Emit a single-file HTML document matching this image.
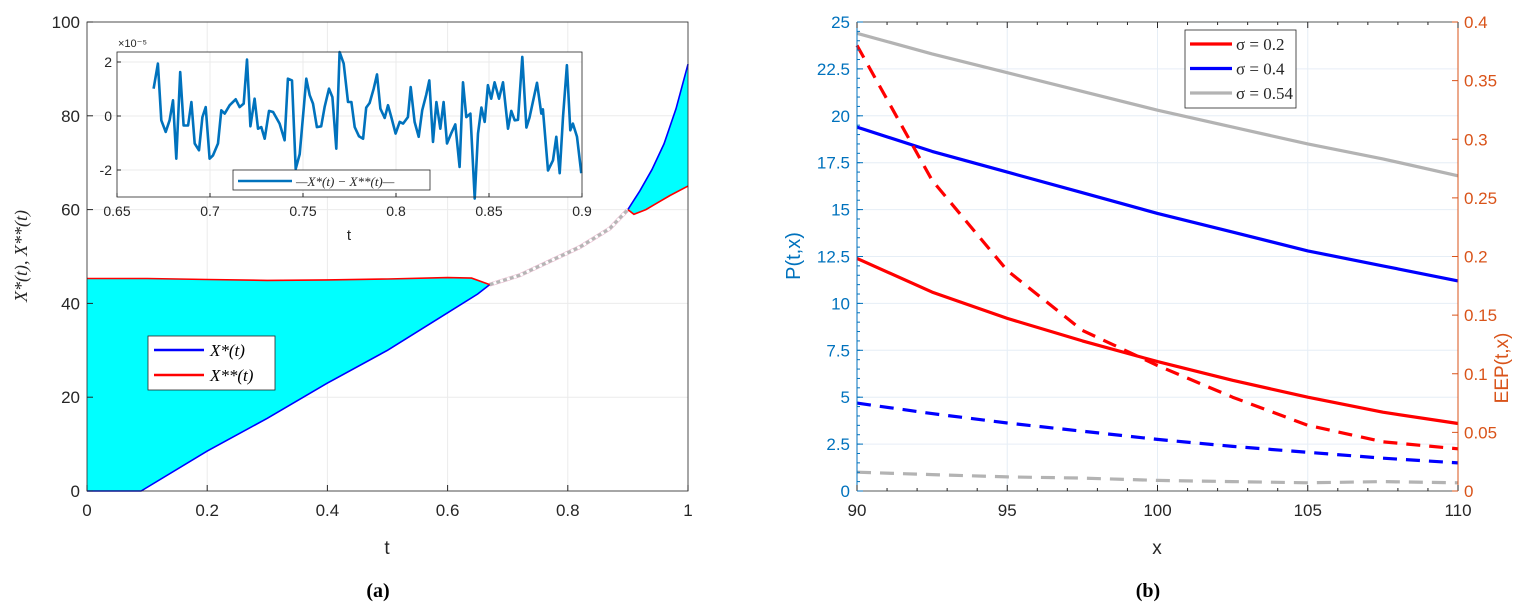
<!DOCTYPE html>
<html><head><meta charset="utf-8">
<style>
body{margin:0;background:#fff;}
svg{display:block;font-family:"Liberation Sans",sans-serif;}
.tk{font-size:17px;fill:#262626;}
.itk{font-size:14px;fill:#262626;}
.ser{font-family:"Liberation Serif",serif;font-style:italic;}
</style></head>
<body>
<svg id="fig" width="1518" height="606" viewBox="0 0 1518 606">
<g id="A"></g>
<g id="B"></g>
</svg>
<script>
// Panel (a) data
const tBlue1 = [0,0.09,0.2,0.3,0.4,0.5,0.6,0.65,0.67];
const vBlue1 = [0,0,8.5,15.5,23,30,38,42,44];
const tRed1 = [0,0.1,0.2,0.3,0.4,0.5,0.6,0.64,0.67];
const vRed1 = [45.3,45.3,45.1,44.9,45,45.2,45.5,45.4,44];
const tGap = [0.67,0.72,0.77,0.82,0.87,0.9];
const vGap = [44,46,49,52,56,60];
const tBlue2 = [0.9,0.92,0.94,0.96,0.98,1];
const vBlue2 = [60,64,68.5,74,81.5,91];
const tRed2 = [0.9,0.91,0.93,0.95,0.97,1];
const vRed2 = [60,59,60,61.5,63,65];
const aXTicks = [0,0.2,0.4,0.6,0.8,1];
const aXLabels = ["0","0.2","0.4","0.6","0.8","1"];
const aYTicks = [0,20,40,60,80,100];
// inset data (units 1e-5)
const tIn = [.6697,.6720,.6738,.6762,.6783,.6801,.6819,.6840,.6858,.6882,.6900,.6918,.6941,.6959,.6977,.6998,.7016,.7043,.7061,.7079,.7106,.7138,.7159,.7181,.7199,.7217,.7240,.7258,.7276,.7294,.7317,.7339,.7374,.7401,.7419,.7441,.7461,.7482,.7518,.7536,.7554,.7575,.7598,.7616,.7640,.7658,.7679,.7697,.7719,.7742,.7760,.7778,.7801,.7823,.7840,.7858,.7880,.7898,.7916,.7939,.7957,.7975,.7998,.8020,.8038,.8064,.8079,.8100,.8122,.8141,.8163,.8179,.8199,.8217,.8238,.8256,.8274,.8296,.8319,.8342,.8360,.8378,.8400,.8423,.8441,.8459,.8477,.8494,.8512,.8530,.8554,.8575,.8602,.8620,.8638,.8656,.8679,.8701,.8718,.8758,.8781,.8790,.8817,.8844,.8862,.8880,.8898,.8919,.8937,.8951,.8973,.8996];
const vIn = [1.01,1.94,-0.16,-0.59,-0.16,0.58,-1.58,1.63,-0.35,-0.35,0.52,-1.02,-1.27,-0.04,0.33,-1.58,-1.46,-1.02,0.21,0.09,0.40,0.62,0.33,0.46,2.09,-0.38,0.64,-0.47,-0.41,-0.84,0.19,0.15,-0.28,-0.90,1.38,1.32,-1.96,-1.41,1.38,0.77,0.46,-0.41,-0.38,0.33,1.01,0.70,-1.21,2.37,1.94,0.52,0.52,-0.41,-0.75,-0.84,0.31,0.48,1.01,1.54,0.27,-0.07,0.40,-0.04,-0.65,-0.22,-0.28,-0.04,1.07,-0.22,-0.77,0.21,0.80,1.32,-0.96,0.52,-0.47,0.52,-1.02,-0.65,-0.31,-1.89,1.25,-0.04,0.09,-3.06,-0.65,0.31,-0.22,1.14,0.64,1.25,0.64,1.25,-0.47,0.19,-0.16,-0.14,2.19,-0.43,-0.06,1.23,0.09,0.25,-2.02,-1.64,-0.77,-2.12,-0.04,1.88,-0.53,-0.28,-0.77,-2.12];
const inXTicks = [0.65,0.7,0.75,0.8,0.85,0.9];
const inXLabels = ["0.65","0.7","0.75","0.8","0.85","0.9"];
const inYTicks = [-2,0,2];
// Panel (b) data
const xs = [90,92.5,95,97.5,100,102.5,105,107.5,110];
const pGray = [24.4,23.3,22.3,21.3,20.3,19.4,18.5,17.7,16.8];
const pBlue = [19.4,18.1,17.0,15.9,14.8,13.8,12.8,12.0,11.2];
const pRed = [12.4,10.6,9.2,8.0,6.9,5.9,5.0,4.2,3.6];
const eRed = [0.38,0.265,0.188,0.137,0.107,0.08,0.056,0.042,0.036];
const eBlue = [0.075,0.066,0.058,0.051,0.044,0.038,0.033,0.028,0.024];
const eGray = [0.016,0.014,0.012,0.011,0.009,0.008,0.007,0.008,0.007];
const bXTicks = [90,95,100,105,110];
const bYTicks = [0,2.5,5,7.5,10,12.5,15,17.5,20,22.5,25];
const bYLabels = ["0","2.5","5","7.5","10","12.5","15","17.5","20","22.5","25"];
const bRTicks = [0,0.05,0.1,0.15,0.2,0.25,0.3,0.35,0.4];
const bRLabels = ["0","0.05","0.1","0.15","0.2","0.25","0.3","0.35","0.4"];

const NS="http://www.w3.org/2000/svg";
function mk(par,tag,attrs,txt){const e=document.createElementNS(NS,tag);for(const k in attrs)e.setAttribute(k,attrs[k]);if(txt!==undefined)e.textContent=txt;par.appendChild(e);return e;}
function pts(xa,ya,fx,fy){return xa.map((x,i)=>fx(x).toFixed(1)+","+fy(ya[i]).toFixed(1)).join(" ");}

// ---------- Panel A ----------
const A=document.getElementById('A');
const ax=t=>87+t*601, ay=v=>491-v*4.69;
for(const t of aXTicks){const l=mk(A,'line',{x1:ax(t),x2:ax(t),y1:22,y2:491,stroke:'#ebebeb'});

}
for(const v of aYTicks){const l=mk(A,'line',{x1:87,x2:688,y1:ay(v),y2:ay(v),stroke:'#ebebeb'});

}
const f1=mk(A,'polygon',{points:pts(tRed1,vRed1,ax,ay)+" "+pts(tBlue1.slice().reverse(),vBlue1.slice().reverse(),ax,ay),fill:'#00ffff'});


const f2=mk(A,'polygon',{points:pts(tBlue2,vBlue2,ax,ay)+" "+pts(tRed2.slice().reverse(),vRed2.slice().reverse(),ax,ay),fill:'#00ffff'});


const gp2=mk(A,'polyline',{points:pts(tGap,vGap,ax,ay),fill:'none',stroke:'#e8b0c8','stroke-width':4});


mk(A,'polyline',{points:pts(tGap,vGap,ax,ay),fill:'none',stroke:'#fff','stroke-width':3});
const gp=mk(A,'polyline',{points:pts(tGap,vGap,ax,ay),fill:'none',stroke:'#b5b5b5','stroke-width':3,'stroke-dasharray':'4,3'});


[[tBlue1,vBlue1,'#0000ff','x-star-line-1'],[tRed1,vRed1,'#ff0000','x-star-star-line-1'],[tBlue2,vBlue2,'#0000ff','x-star-line-2'],[tRed2,vRed2,'#ff0000','x-star-star-line-2']].forEach(s=>{
const p=mk(A,'polyline',{points:pts(s[0],s[1],ax,ay),fill:'none',stroke:s[2],'stroke-width':1.6});

});
mk(A,'rect',{x:87,y:22,width:601,height:469,fill:'none',stroke:'#262626','stroke-width':0.8});
for(let i=0;i<aXTicks.length;i++){const t=aXTicks[i];mk(A,'line',{x1:ax(t),x2:ax(t),y1:491,y2:485,stroke:'#262626'});
const tx=mk(A,'text',{x:ax(t),y:516,'text-anchor':'middle',class:'tk'},aXLabels[i]);

}
for(const v of aYTicks){mk(A,'line',{x1:87,x2:93,y1:ay(v),y2:ay(v),stroke:'#262626'});
const tx=mk(A,'text',{x:80,y:ay(v)+6,'text-anchor':'end',class:'tk'},String(v));

}
mk(A,'text',{x:387,y:554,'text-anchor':'middle',style:'font-size:19px;fill:#262626'},'t');
mk(A,'text',{x:0,y:0,transform:'translate(27,256) rotate(-90)','text-anchor':'middle',class:'ser',style:'font-size:18px;fill:#262626'},'X*(t), X**(t)');
const lg=mk(A,'g',{});


mk(lg,'rect',{x:148,y:336,width:127,height:54,fill:'#fff',stroke:'#262626','stroke-width':0.8});
mk(lg,'line',{x1:154,x2:204,y1:350,y2:350,stroke:'#0000ff','stroke-width':2.5});
mk(lg,'line',{x1:154,x2:204,y1:375,y2:375,stroke:'#ff0000','stroke-width':2.5});
mk(lg,'text',{x:210,y:356,class:'ser',style:'font-size:17px'},'X*(t)');
mk(lg,'text',{x:210,y:381,class:'ser',style:'font-size:17px'},'X**(t)');
// inset
const ix=t=>117+(t-0.65)/0.25*465, iy=v=>116-v*27;
const ins=mk(A,'g',{});


mk(ins,'rect',{x:117,y:52,width:465,height:145,fill:'#fff'});
for(const t of inXTicks)mk(ins,'line',{x1:ix(t),x2:ix(t),y1:52,y2:197,stroke:'#ebebeb'});
for(const v of inYTicks)mk(ins,'line',{x1:117,x2:582,y1:iy(v),y2:iy(v),stroke:'#ebebeb'});
const il=mk(ins,'polyline',{points:pts(tIn,vIn,ix,iy),fill:'none',stroke:'#0072bd','stroke-width':2.6,'stroke-linejoin':'round'});


mk(ins,'rect',{x:117,y:52,width:465,height:145,fill:'none',stroke:'#262626','stroke-width':0.8});
for(let i=0;i<inXTicks.length;i++){const t=inXTicks[i];mk(ins,'line',{x1:ix(t),x2:ix(t),y1:197,y2:193,stroke:'#262626'});
mk(ins,'text',{x:ix(t),y:216,'text-anchor':'middle',class:'itk'},inXLabels[i]);}
for(const v of inYTicks){mk(ins,'line',{x1:117,x2:121,y1:iy(v),y2:iy(v),stroke:'#262626'});
mk(ins,'text',{x:112,y:iy(v)+5,'text-anchor':'end',class:'itk'},String(v));}
mk(ins,'text',{x:118,y:47,style:'font-size:11px;fill:#262626'},'×10⁻⁵');
mk(ins,'text',{x:349,y:240,'text-anchor':'middle',style:'font-size:15px;fill:#262626'},'t');
mk(ins,'rect',{x:233,y:170,width:197,height:20,fill:'#fff',stroke:'#262626','stroke-width':0.8});
mk(ins,'line',{x1:238,x2:292,y1:181,y2:181,stroke:'#0072bd','stroke-width':2.6});
mk(ins,'text',{x:296,y:186,class:'ser',style:'font-size:13px;fill:#262626'},'—X*(t) − X**(t)—');
mk(A,'text',{x:378,y:597,'text-anchor':'middle',style:'font-family:"Liberation Serif",serif;font-weight:bold;font-size:20px'},'(a)');

// ---------- Panel B ----------
const B=document.getElementById('B');
const bx=x=>857+(x-90)/20*601, by=v=>491-v*18.76, br=v=>491-v*1172.5;
for(const x of bXTicks)mk(B,'line',{x1:bx(x),x2:bx(x),y1:22,y2:491,stroke:'#e6eef6'});
for(const v of bYTicks)mk(B,'line',{x1:857,x2:1458,y1:by(v),y2:by(v),stroke:'#e6eef6'});
[[pGray,'#b3b3b3',by,'','p-gray-solid'],[pBlue,'#0000ff',by,'','p-blue-solid'],[pRed,'#ff0000',by,'','p-red-solid'],
 [eRed,'#ff0000',br,'14,9','eep-red-dashed'],[eBlue,'#0000ff',br,'14,9','eep-blue-dashed'],[eGray,'#b3b3b3',br,'14,9','eep-gray-dashed']].forEach(s=>{
const p=mk(B,'polyline',{points:pts(xs,s[0],bx,s[2]),fill:'none',stroke:s[1],'stroke-width':3.2,'stroke-dasharray':s[3]||'none','stroke-linejoin':'round'});

});
mk(B,'line',{x1:857,x2:1458,y1:22,y2:22,stroke:'#262626','stroke-width':0.8});
mk(B,'line',{x1:857,x2:1458,y1:491,y2:491,stroke:'#262626','stroke-width':0.8});
mk(B,'line',{x1:857,x2:857,y1:22,y2:491,stroke:'#0072bd','stroke-width':1});
mk(B,'line',{x1:1458,x2:1458,y1:22,y2:491,stroke:'#d95319','stroke-width':1});
for(let x=90;x<=110;x+=1){const big=x%5===0;mk(B,'line',{x1:bx(x),x2:bx(x),y1:491,y2:big?485:488,stroke:'#262626'});mk(B,'line',{x1:bx(x),x2:bx(x),y1:22,y2:big?28:25,stroke:'#262626'});}
for(const x of bXTicks){const t=mk(B,'text',{x:bx(x),y:516,'text-anchor':'middle',class:'tk'},String(x));

}
for(let v=0;v<=25.01;v+=0.5)mk(B,'line',{x1:857,x2:860,y1:by(v),y2:by(v),stroke:'#0072bd'});
for(let i=0;i<bYTicks.length;i++){const v=bYTicks[i];mk(B,'line',{x1:857,x2:863,y1:by(v),y2:by(v),stroke:'#0072bd'});
const t=mk(B,'text',{x:850,y:by(v)+6,'text-anchor':'end',class:'tk',style:'fill:#0072bd'},bYLabels[i]);

}
for(let i=0;i<bRTicks.length;i++){const v=bRTicks[i];mk(B,'line',{x1:1452,x2:1458,y1:br(v),y2:br(v),stroke:'#d95319'});
const t=mk(B,'text',{x:1464,y:br(v)+6,class:'tk',style:'fill:#d95319'},bRLabels[i]);

}
mk(B,'text',{x:1157,y:554,'text-anchor':'middle',style:'font-size:19px;fill:#262626'},'x');
mk(B,'text',{x:0,y:0,transform:'translate(800,256) rotate(-90)','text-anchor':'middle',style:'font-size:20px;fill:#0072bd'},'P(t,x)');
mk(B,'text',{x:0,y:0,transform:'translate(1508,368) rotate(-90)','text-anchor':'middle',style:'font-size:19px;fill:#d95319'},'EEP(t,x)');
const lb=mk(B,'g',{});


mk(lb,'rect',{x:1185,y:30,width:111,height:78,fill:'#fff',stroke:'#262626','stroke-width':0.8});
[['#ff0000','σ = 0.2'],['#0000ff','σ = 0.4'],['#b3b3b3','σ = 0.54']].forEach((e,i)=>{const y=44+i*24.5;
mk(lb,'line',{x1:1190,x2:1232,y1:y,y2:y,stroke:e[0],'stroke-width':3.2});
mk(lb,'text',{x:1236,y:y+6,style:'font-family:"Liberation Serif",serif;font-size:17px;fill:#262626'},e[1]);});
mk(B,'text',{x:1148,y:597,'text-anchor':'middle',style:'font-family:"Liberation Serif",serif;font-weight:bold;font-size:20px'},'(b)');
</script>
</body></html>
